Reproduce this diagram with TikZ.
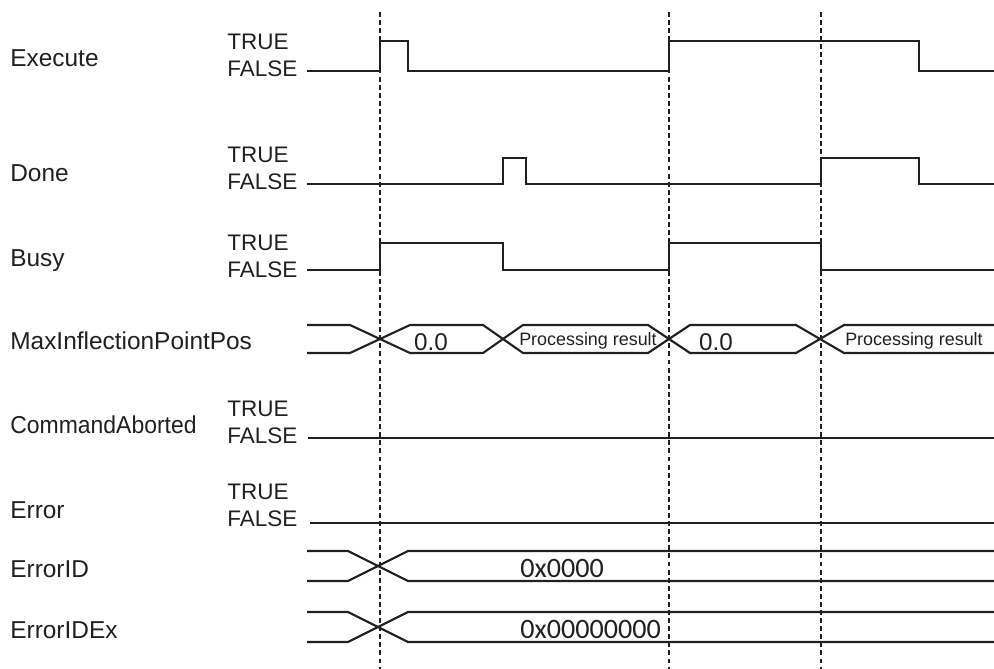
\documentclass[tikz,border=0pt]{standalone}
\usepackage{graphicx}
\usepackage{fontspec}
\setmainfont{Liberation Sans}
\newfontfamily\hexfont{Carlito}
\definecolor{ink}{HTML}{231F20}

\begin{document}
\begin{tikzpicture}[x=0.02cm, y=-0.02cm, color=ink,
      sig/.style={line width=1.2pt},
      guide/.style={line width=0.9pt, dash pattern=on 2.8pt off 1.8pt},
      signame/.style={anchor=base west, inner sep=0pt, font=\fontsize{13.9}{15}\selectfont},
      lvl/.style={anchor=base west, inner sep=0pt, font=\fontsize{12.8}{14}\selectfont},
      val/.style={anchor=base, inner sep=0pt, font=\fontsize{13.8}{15}\selectfont},
      res/.style={anchor=base, inner sep=0pt, font=\fontsize{10.2}{12}\selectfont},
      hex/.style={anchor=base west, inner sep=0pt, font=\hexfont\fontsize{16}{18}\selectfont}]
    \useasboundingbox (0,0) rectangle (994,669);
    % time marks
    \foreach \x in {380,669,821}
      \draw[guide] (\x,12) -- (\x,669);
    % signal names
    \foreach \t/\n/\y in {exec/Execute/67, done/Done/181, busy/Busy/266,
        maxpos/MaxInflectionPointPos/349, err/Error/518,
        errid/ErrorID/577, errex/ErrorIDEx/638}
      \node[signame] (\t) at (10,\y) {\n};
    \node[signame] (abort) at (10,433) {\scalebox{0.94}[1]{CommandAborted}};
    \foreach \t/\y in {exec/77, done/189, busy/277, abort/443, err/526} {
      \node[lvl] (\t-true) at (227,\y-27) {TRUE};
      \node[lvl] (\t-false) at (227,\y) {FALSE};
    }
    % bit signals
    \draw[sig] (307,71) -| (380,41) -| (408,71) -| (669,41) -| (919,71) -- (994,71);
    \draw[sig] (307,184) -| (503,158) -| (526,184) -| (821,158) -| (919,184) -- (994,184);
    \draw[sig] (307,270) -| (380,243) -| (503,270) -| (669,243) -| (821,270) -- (994,270);
    \draw[sig] (308,438) -- (994,438);
    \draw[sig] (310,523) -- (994,523);
    % buses
    \draw[sig] (307,325) -- (350,325) -- (410,353) -- (483,353) -- (523,325) -- (648,325)
      -- (690,353) -- (796,353) -- (844,325) -- (994,325);
    \draw[sig] (307,353) -- (350,353) -- (410,325) -- (483,325) -- (523,353) -- (648,353)
      -- (690,325) -- (796,325) -- (844,353) -- (994,353);
    \foreach \y/\h in {551/30, 612/30} {
      \draw[sig] (307,\y) -- (348,\y) -- (408,\y+\h) -- (994,\y+\h);
      \draw[sig] (307,\y+\h) -- (348,\y+\h) -- (408,\y) -- (994,\y);
    }
    \node[val] (v1) at (431,350) {0.0};
    \node[res] (r1) at (588,345) {Processing result};
    \node[val] (v2) at (716,350) {0.0};
    \node[res] (r2) at (914,345) {Processing result};
    \node[hex] (h1) at (520,577) {0x0000};
    \node[hex] (h2) at (520,638) {0x00000000};
  \end{tikzpicture}
\end{document}
